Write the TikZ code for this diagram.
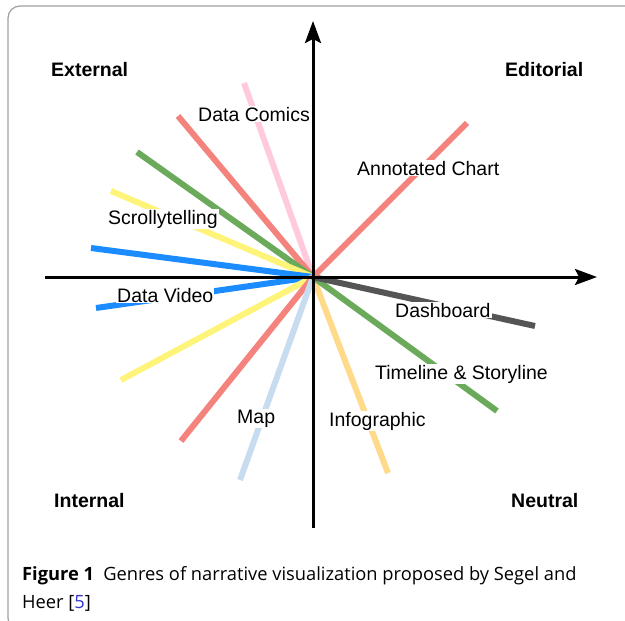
\documentclass[tikz,border=0pt]{standalone}
\usepackage{fontspec}
\setmainfont{Liberation Sans}
\newfontfamily\capfont{Open Sans}
\usetikzlibrary{positioning, arrows.meta}

\definecolor{rayred}{HTML}{F4837D}
\definecolor{raypink}{HTML}{FFC9DE}
\definecolor{raygreen}{HTML}{6BAA5B}
\definecolor{rayyellow}{HTML}{FFF47A}
\definecolor{rayblue}{HTML}{1A8CFF}
\definecolor{raysky}{HTML}{C8DCF0}
\definecolor{rayorange}{HTML}{FFDA8A}
\definecolor{raygray}{HTML}{555555}
\definecolor{refblue}{HTML}{3535D0}

\begin{document}
\begin{tikzpicture}[
  x=1pt, y=-1pt,
  axisline/.style={line width=3pt, -{Stealth[length=22pt, width=16pt, inset=4pt]}},
  ray/.style={line width=6pt, draw=#1},
  genre/.style={fill=white, inner sep=1pt, anchor=base west, font=\fontsize{19.5}{23}\selectfont},
  quadrant/.style={inner sep=0pt, anchor=base west, font=\bfseries\fontsize{19.5}{23}\selectfont},
  captext/.style={inner sep=0pt, anchor=base west, font=\capfont\fontsize{18.3}{22}\selectfont}
]
  \useasboundingbox (0,0) rectangle (625,621);
  % frame around the figure
  \draw[gray!75, line width=1.2pt, rounded corners=12pt] (8,6) rectangle (660,630);

  % genres as rays from the centre
  \coordinate (o) at (313,277);
  \foreach \name/\x/\y/\col in {
      comics/244/83/raypink, redtl/178/116/rayred, greentl/137/152/raygreen,
      scrolly/111/191/rayyellow, videotop/91/248/rayblue, videolow/96/308/rayblue,
      yellowbl/121/380/rayyellow, redbl/181/441/rayred, map/240/480/raysky,
      infog/388/473/rayorange, timeline/497/411/raygreen, dash/535/326/raygray,
      annot/467/123/rayred} {
    \coordinate (\name) at (\x,\y);
    \draw[ray=\col] (o) -- (\name);
  }

  \node[genre] (lcomics) at (197,121) {Data Comics};
  \node[genre] (lannot) at (356,175) {Annotated Chart};
  \node[genre] (lscrolly) at (107,224) {Scrollytelling};
  \node[genre] (lvideo) at (116,302) {Data Video};
  \node[genre] (ldash) at (394,317) {Dashboard};
  \node[genre] (ltimeline) at (374,379) {Timeline \& Storyline};
  \node[genre] (linfog) at (328,426) {Infographic};
  \node[genre] (lmap) at (236,423) {Map};

  % axes
  \coordinate (ybot) at (313,528);
  \coordinate (ytop) at (313,21);
  \coordinate (xleft) at (45,277);
  \coordinate (xright) at (597,277);
  \draw[axisline] (ybot) -- (ytop);
  \draw[axisline] (xleft) -- (xright);

  \node[quadrant] (external) at (51,76) {External};
  \node[quadrant] (editorial) at (505,76) {Editorial};
  \node[quadrant] (internal) at (54,507) {Internal};
  \node[quadrant] (neutral) at (511,507) {Neutral};

  % caption
  \node[captext] (cap1) at (22,580) {\textbf{Figure 1}\enspace Genres of narrative visualization proposed by Segel and};
  \node[captext] (cap2) at (22,608) {Heer [\textcolor{refblue}{5}]};
\end{tikzpicture}
\end{document}
